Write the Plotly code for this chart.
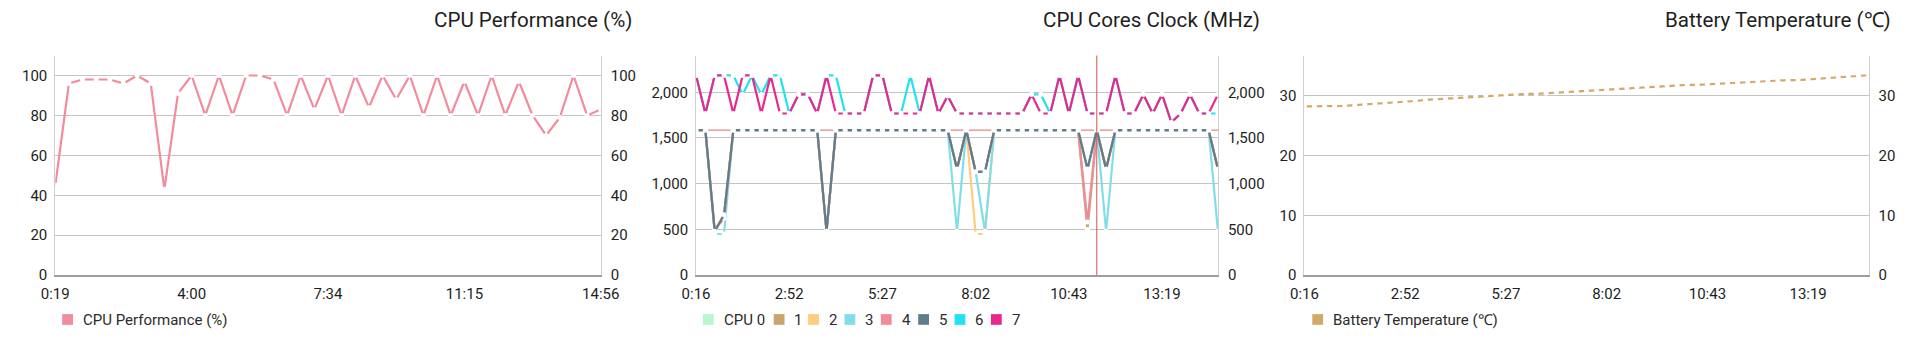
import plotly.graph_objects as go

W, H = 1920, 346

# ---------------- data ----------------
perf_ticks = ["0:19", "4:00", "7:34", "11:15", "14:56"]
cores_ticks = ["0:16", "2:52", "5:27", "8:02", "10:43", "13:19"]
temp_ticks = ["0:16", "2:52", "5:27", "8:02", "10:43", "13:19"]

cpu_perf = [45, 96, 98, 98, 98, 96, 100, 96, 43, 91,
            100, 80, 100, 80, 100, 100, 98, 80, 100, 83,
            100, 80, 100, 84, 100, 88, 100, 80, 100, 80,
            97, 80, 100, 80, 97, 80, 70, 79, 100, 80,
            83]

cpu0 = [1586, 1586, 480, 660, 1586, 1586, 1586, 1586, 1586, 1586,
        1586, 1586, 1586, 1586, 480, 1586, 1586, 1586, 1586, 1586,
        1586, 1586, 1586, 1586, 1586, 1586, 1586, 1586, 1160, 1586,
        1130, 1130, 1586, 1586, 1586, 1586, 1586, 1586, 1586, 1586,
        1586, 1586, 500, 1586, 1160, 1586, 1586, 1586, 1586, 1586,
        1586, 1586, 1586, 1586, 1586, 1586, 1160]
cpu1 = [1586, 1586, 480, 660, 1586, 1586, 1586, 1586, 1586, 1586,
        1586, 1586, 1586, 1586, 480, 1586, 1586, 1586, 1586, 1586,
        1586, 1586, 1586, 1586, 1586, 1586, 1586, 1586, 1160, 1586,
        1130, 1130, 1586, 1586, 1586, 1586, 1586, 1586, 1586, 1586,
        1586, 1586, 500, 1586, 1160, 1586, 1586, 1586, 1586, 1586,
        1586, 1586, 1586, 1586, 1586, 1586, 1160]
cpu2 = [1586, 1586, 480, 660, 1586, 1586, 1586, 1586, 1586, 1586,
        1586, 1586, 1586, 1586, 480, 1586, 1586, 1586, 1586, 1586,
        1586, 1586, 1586, 1586, 1586, 1586, 1586, 1586, 1160, 1586,
        450, 450, 1586, 1586, 1586, 1586, 1586, 1586, 1586, 1586,
        1586, 1586, 1160, 1586, 1160, 1586, 1586, 1586, 1586, 1586,
        1586, 1586, 1586, 1586, 1586, 1586, 1160]
cpu3 = [1586, 1586, 450, 450, 1586, 1586, 1586, 1586, 1586, 1586,
        1586, 1586, 1586, 1586, 480, 1586, 1586, 1586, 1586, 1586,
        1586, 1586, 1586, 1586, 1586, 1586, 1586, 1586, 480, 1586,
        1130, 480, 1586, 1586, 1586, 1586, 1586, 1586, 1586, 1586,
        1586, 1586, 1160, 1586, 480, 1586, 1586, 1586, 1586, 1586,
        1586, 1586, 1586, 1586, 1586, 1586, 480]
cpu4 = [1586, 1586, 500, 620, 1586, 1586, 1586, 1586, 1586, 1586,
        1586, 1586, 1586, 1586, 480, 1586, 1586, 1586, 1586, 1586,
        1586, 1586, 1586, 1586, 1586, 1586, 1586, 1586, 1160, 1586,
        1130, 1130, 1586, 1586, 1586, 1586, 1586, 1586, 1586, 1586,
        1586, 1586, 580, 1586, 1160, 1586, 1586, 1586, 1586, 1586,
        1586, 1586, 1586, 1586, 1586, 1586, 1160]
cpu5 = [1586, 1586, 480, 660, 1586, 1586, 1586, 1586, 1586, 1586,
        1586, 1586, 1586, 1586, 480, 1586, 1586, 1586, 1586, 1586,
        1586, 1586, 1586, 1586, 1586, 1586, 1586, 1586, 1160, 1586,
        1130, 1130, 1586, 1586, 1586, 1586, 1586, 1586, 1586, 1586,
        1586, 1586, 1160, 1586, 1160, 1586, 1586, 1586, 1586, 1586,
        1586, 1586, 1586, 1586, 1586, 1586, 1160]
cpu6 = [2184, 1768, 2184, 2184, 2184, 1976, 2184, 1976, 2184, 2184,
        1768, 1976, 1976, 1768, 2184, 2184, 1768, 1768, 1768, 2184,
        2184, 1768, 1768, 2184, 1768, 2184, 1768, 1960, 1768, 1768,
        1768, 1768, 1768, 1768, 1768, 1768, 1976, 1976, 1768, 2184,
        1768, 2184, 1768, 1768, 1768, 2184, 1768, 1768, 1976, 1768,
        1976, 1672, 1768, 1976, 1768, 1768, 1768]
cpu7 = [2184, 1768, 2184, 2184, 1768, 2184, 2184, 1768, 2184, 1768,
        1768, 1976, 1976, 1768, 2184, 1768, 1768, 1768, 1768, 2184,
        2184, 1768, 1768, 1768, 1768, 2184, 1768, 1960, 1768, 1768,
        1768, 1768, 1768, 1768, 1768, 1768, 1976, 1768, 1768, 2184,
        1768, 2184, 1768, 1768, 1768, 2184, 1768, 1768, 1976, 1768,
        1976, 1672, 1768, 1976, 1768, 1768, 1976]

battery_temp = [28.2, 28.2, 28.2, 28.3, 28.3, 28.4, 28.5, 28.6, 28.7, 28.8,
                28.9, 29.1, 29.3, 29.4, 29.5, 29.7, 29.8, 29.9, 30.0, 30.1,
                30.2, 30.2, 30.3, 30.3, 30.4, 30.5, 30.6, 30.7, 30.8, 30.9,
                31.0, 31.1, 31.3, 31.4, 31.5, 31.6, 31.7, 31.7, 31.8, 31.8,
                31.9, 32.0, 32.1, 32.2, 32.3, 32.4, 32.4, 32.5, 32.6, 32.6,
                32.7, 32.8, 32.9, 33.0, 33.1, 33.2, 33.4]

core_names = ["CPU 0", "1", "2", "3", "4", "5", "6", "7"]
core_series = [cpu0, cpu1, cpu2, cpu3, cpu4, cpu5, cpu6, cpu7]
core_colors = ["#b9f6ca", "#c9a56c", "#ffcc80", "#80deea",
               "#f28b98", "#607d8b", "#22e2f2", "#e9288f"]
perf_color = "#f28b9c"
temp_color = "#d3a96a"

# ---------------- layout helpers ----------------
def px(x):
    return x / W

def py(y):
    return 1 - y / H

FONT = "Roboto"
TXT = "#1e1e1e"
Y_DOM = [py(282.5), py(57)]
panels = [
    dict(x0=42, x1=597),
    dict(x0=694, x1=1225),
    dict(x0=1313, x1=1887),
]

fig = go.Figure()

line_w = 2.2
mk = dict(color="white", size=5, symbol="circle", line=dict(width=0))

def ghost(xs, ys, xa, ya):
    # invisible copy so the right-hand axis gets drawn
    return go.Scatter(x=xs, y=ys, mode="lines", opacity=0, line=dict(width=0),
                      hoverinfo="skip", showlegend=False, xaxis=xa, yaxis=ya)

# panel 1
xp = list(range(len(cpu_perf)))
fig.add_trace(ghost(xp, cpu_perf, "x", "y2"))
fig.add_trace(go.Scatter(x=xp, y=cpu_perf, mode="lines+markers",
                         line=dict(color=perf_color, width=line_w), marker=mk,
                         name="CPU Performance (%)", showlegend=False,
                         xaxis="x", yaxis="y"))
# panel 2
xc = list(range(len(cpu7)))
fig.add_trace(ghost(xc, cpu7, "x2", "y4"))
for nm, ser, col in zip(core_names, core_series, core_colors):
    fig.add_trace(go.Scatter(x=list(range(len(ser))), y=ser, mode="lines+markers",
                             line=dict(color=col, width=line_w), marker=mk,
                             name=nm, showlegend=False, xaxis="x2", yaxis="y3"))
# panel 3
xt = list(range(len(battery_temp)))
fig.add_trace(ghost(xt, battery_temp, "x3", "y6"))
fig.add_trace(go.Scatter(x=xt, y=battery_temp, mode="lines+markers",
                         line=dict(color=temp_color, width=line_w), marker=mk,
                         name="Battery Temperature (℃)", showlegend=False,
                         xaxis="x3", yaxis="y5"))

tickfont = dict(family=FONT, size=15, color=TXT)

def xaxis(p, n, labels):
    return dict(domain=[px(p["x0"]), px(p["x1"])], range=[0, n - 1],
                tickvals=[i * 10 for i in range(len(labels))], ticktext=labels,
                showgrid=False, zeroline=False, showline=True, linecolor="#9e9e9e",
                linewidth=2, ticks="", tickfont=tickfont, ticklabelstandoff=4,
                fixedrange=True)

def yleft(xid, rng, vals, fmt=None):
    d = dict(domain=Y_DOM, range=rng, tickvals=vals, anchor=xid, showgrid=True,
             gridcolor="#c4c4c4", gridwidth=1, zeroline=False, showline=True,
             linecolor="#cfcfcf", linewidth=1, ticks="", tickfont=tickfont,
             ticklabelstandoff=4, fixedrange=True)
    if fmt:
        d["tickformat"] = fmt
    return d

def yright(xid, over, rng, vals, fmt=None):
    d = dict(domain=Y_DOM, range=rng, tickvals=vals, anchor=xid, overlaying=over,
             side="right", showgrid=False, zeroline=False, showline=True,
             linecolor="#cfcfcf", linewidth=1, ticks="", tickfont=tickfont,
             ticklabelstandoff=6, fixedrange=True)
    if fmt:
        d["tickformat"] = fmt
    return d

r1 = [0, 110]
v1 = [0, 20, 40, 60, 80, 100]
r2 = [0, 2402]
v2 = [0, 500, 1000, 1500, 2000]
r3 = [0, 36.7]
v3 = [0, 10, 20, 30]

shapes = []
annotations = []

# titles
titles = [("CPU Performance (%)", 631), ("CPU Cores Clock (MHz)", 1270),
          ("Battery Temperature (℃)", 1912)]
for t, xr in titles:
    annotations.append(dict(text=t, x=px(xr), y=py(21), xref="paper", yref="paper",
                            xanchor="right", yanchor="middle", showarrow=False,
                            font=dict(family=FONT, size=20.6, color=TXT)))

# legends (square + label)
LEG_Y = 328
leg_items = [("CPU Performance (%)", perf_color, 49)]
core_sq = [701, 773, 808, 845, 882, 920, 957, 994]
for nm, col, sx in zip(core_names, core_colors, core_sq):
    leg_items.append((nm, col, sx))
leg_items.append(("Battery Temperature (℃)", temp_color, 1321))
for nm, col, sx in leg_items:
    shapes.append(dict(type="rect", xref="paper", yref="paper",
                       x0=px(sx), x1=px(sx + 11), y0=py(LEG_Y + 5.5), y1=py(LEG_Y - 5.5),
                       fillcolor=col, line=dict(width=0), layer="above"))
    annotations.append(dict(text=nm, x=px(sx + 19), y=py(LEG_Y + 1), xref="paper", yref="paper",
                            xanchor="left", yanchor="middle", showarrow=False,
                            font=dict(family=FONT, size=15, color="#2b2b2b")))

# crosshair in panel 2
shapes.append(dict(type="line", xref="x2", yref="y3 domain", x0=43, x1=43, y0=0, y1=1,
                   line=dict(color="#d9534f", width=1), layer="above"))
shapes.append(dict(type="line", xref="x2 domain", yref="y3", x0=0, x1=1, y0=1586, y1=1586,
                   line=dict(color="#e06666", width=1), layer="below"))

fig.update_layout(
    width=W, height=H, margin=dict(l=0, r=0, t=0, b=0),
    paper_bgcolor="white", plot_bgcolor="white",
    showlegend=False, hovermode=False,
    font=dict(family=FONT, color=TXT),
    xaxis=xaxis(panels[0], len(cpu_perf), perf_ticks) | dict(anchor="y"),
    yaxis=yleft("x", r1, v1),
    yaxis2=yright("x", "y", r1, v1),
    xaxis2=xaxis(panels[1], len(cpu7), cores_ticks) | dict(anchor="y3"),
    yaxis3=yleft("x2", r2, v2, ",d"),
    yaxis4=yright("x2", "y3", r2, v2, ",d"),
    xaxis3=xaxis(panels[2], len(battery_temp), temp_ticks) | dict(anchor="y5"),
    yaxis5=yleft("x3", r3, v3),
    yaxis6=yright("x3", "y5", r3, v3),
    shapes=shapes, annotations=annotations,
)

fig.write_html("out.html", config=dict(displayModeBar=False))
